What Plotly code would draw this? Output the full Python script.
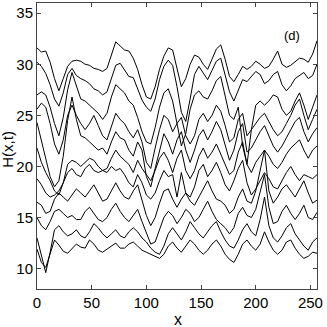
import plotly.graph_objects as go

# interface heights H(x,t) at successive times, sampled every 4 sites
x = list(range(0, 257, 4))

h1 = [31.6, 31.2, 31.3, 30.2, 28.6, 27.4, 28.6, 29.8, 30.3, 30.4, 30.3, 30.0, 29.9, 29.6, 29.5, 29.3,
      29.6, 30.8, 32.2, 31.8, 31.4, 31.3, 30.6, 29.5, 28.0, 26.8, 26.6, 27.8, 29.5, 30.8, 31.6, 31.4,
      29.5, 27.8, 28.6, 30.0, 30.9, 30.7, 30.0, 29.5, 30.5, 31.5, 31.9, 30.5, 28.8, 28.3, 29.0, 29.8,
      29.5, 29.8, 30.3, 30.0, 29.6, 29.8, 30.5, 31.3, 30.0, 29.7, 29.9, 30.3, 30.6, 30.5, 30.2, 31.0, 32.3]
h2 = [30.2, 29.8, 29.1, 28.0, 26.6, 25.9, 27.2, 29.0, 29.6, 28.9, 28.6, 28.4, 28.1, 27.6, 27.4, 27.0,
      27.3, 28.6, 29.9, 30.1, 29.4, 28.8, 28.7, 27.6, 26.5, 25.8, 25.4, 26.6, 28.5, 29.8, 30.4, 29.9,
      27.8, 25.3, 24.4, 26.6, 29.0, 29.8, 29.2, 28.5, 29.4, 30.3, 30.6, 29.0, 27.3, 26.4, 27.4, 28.5,
      28.3, 28.8, 29.3, 29.0, 28.1, 28.4, 29.0, 29.3, 28.0, 27.4, 27.9, 28.6, 28.9, 29.2, 28.6, 28.9, 30.0]
h3 = [27.0, 27.3, 27.0, 25.8, 24.2, 23.0, 24.8, 27.5, 29.2, 27.8, 26.6, 26.4, 26.0, 25.6, 25.2, 24.6,
      25.2, 26.8, 28.0, 27.6, 27.2, 26.4, 26.0, 24.8, 23.4, 22.4, 22.2, 23.8, 25.8, 27.2, 27.6, 26.4,
      24.0, 22.0, 23.2, 25.6, 27.0, 27.4, 26.8, 26.6, 27.4, 28.4, 28.8, 27.0, 25.0, 24.6, 25.8, 22.0,
      20.2, 23.6, 26.0, 26.4, 26.0, 26.4, 27.0, 26.8, 25.6, 25.0, 25.4, 26.4, 27.2, 26.0, 24.6, 25.8, 27.0]
h4 = [25.6, 26.2, 25.8, 24.2, 22.2, 21.2, 22.6, 25.0, 26.0, 25.0, 24.2, 23.6, 24.2, 25.0, 24.0, 23.0,
      22.6, 23.8, 25.2, 24.6, 24.2, 23.4, 22.8, 23.6, 22.4, 20.4, 19.8, 21.8, 23.6, 25.0, 24.6, 23.4,
      24.2, 24.8, 23.0, 22.2, 23.0, 24.6, 25.2, 24.4, 25.0, 26.0, 25.4, 24.0, 22.4, 22.8, 24.6, 25.2,
      23.0, 23.6, 24.2, 24.8, 25.2, 24.4, 23.6, 23.0, 23.4, 24.2, 25.0, 26.0, 26.6, 25.0, 23.6, 24.6, 25.6]
h5 = [24.3, 22.5, 20.5, 19.0, 18.0, 18.6, 21.0, 24.5, 26.8, 24.6, 23.0, 22.8, 22.4, 22.0, 21.6, 21.8,
      21.2, 22.4, 23.4, 22.8, 22.6, 21.6, 21.0, 22.4, 21.6, 19.0, 18.0, 19.8, 21.6, 23.2, 22.4, 21.2,
      22.6, 23.4, 21.6, 20.4, 21.6, 23.0, 23.6, 22.6, 23.4, 24.4, 23.6, 22.0, 20.6, 21.6, 23.4, 24.2,
      21.4, 21.8, 22.6, 23.4, 24.0, 23.0, 22.0, 21.4, 22.0, 22.8, 23.6, 24.4, 24.8, 23.4, 22.4, 23.2, 23.8]
h6 = [21.8, 20.4, 19.4, 18.6, 17.6, 17.2, 18.4, 20.2, 20.6, 20.4, 20.0, 20.4, 20.8, 20.6, 20.0, 19.6,
      19.8, 20.8, 21.6, 21.0, 20.6, 20.2, 19.4, 20.6, 19.8, 19.2, 18.6, 19.6, 20.8, 21.4, 20.6, 19.4,
      20.8, 21.6, 19.6, 18.8, 19.6, 21.0, 21.8, 20.8, 21.4, 22.2, 21.2, 20.2, 19.2, 19.6, 21.4, 22.4,
      20.2, 19.4, 20.4, 21.0, 21.6, 21.0, 20.2, 19.8, 20.4, 21.2, 21.8, 22.2, 22.6, 21.6, 20.8, 21.6, 22.0]
h7 = [18.8, 18.2, 17.4, 17.0, 17.2, 17.6, 18.4, 19.4, 19.8, 19.2, 19.0, 19.8, 20.2, 19.6, 19.4, 19.6,
      19.4, 20.0, 19.6, 19.8, 19.2, 18.4, 18.0, 19.2, 18.4, 17.2, 16.8, 17.4, 18.6, 19.6, 19.0, 19.2,
      17.0, 19.4, 17.4, 17.0, 18.0, 19.6, 20.2, 19.0, 19.6, 20.4, 19.4, 18.2, 17.6, 18.6, 19.8, 20.6,
      18.4, 17.2, 17.8, 18.6, 19.4, 18.8, 18.0, 17.8, 18.6, 19.4, 20.0, 19.2, 18.6, 19.2, 19.0, 18.8, 19.2]
h8 = [16.5, 16.2, 15.4, 15.6, 16.8, 17.4, 17.0, 16.6, 17.2, 17.8, 17.4, 17.0, 17.6, 18.2, 17.4, 16.6,
      16.8, 17.6, 18.4, 17.6, 17.0, 16.8, 17.6, 18.2, 16.8, 15.2, 14.2, 15.0, 16.4, 17.6, 17.8, 16.8,
      16.0, 16.8, 17.4, 16.6, 16.2, 17.0, 17.8, 18.6, 17.6, 16.8, 16.6, 16.2, 15.4, 15.8, 17.0, 17.8,
      16.6, 16.4, 17.6, 19.6, 21.6, 17.6, 16.4, 17.0, 17.8, 18.2, 17.6, 17.0, 17.8, 18.6, 17.4, 16.4, 16.7]
h9 = [15.0, 14.2, 13.8, 14.6, 15.6, 15.8, 15.4, 15.0, 15.2, 14.8, 14.8, 15.6, 16.0, 15.4, 14.8, 14.6,
      15.0, 15.8, 16.4, 15.6, 15.0, 14.6, 15.2, 15.8, 14.6, 13.4, 12.4, 12.6, 13.8, 15.0, 15.6, 15.2,
      14.4, 15.0, 15.8, 15.4, 14.6, 15.0, 15.8, 16.6, 15.6, 14.8, 14.4, 14.0, 13.4, 14.0, 15.4, 16.0,
      15.2, 15.0, 15.8, 17.4, 19.2, 16.0, 14.4, 14.6, 15.6, 16.2, 15.4, 14.8, 15.4, 16.2, 15.0, 14.8, 15.5]
h10 = [13.0, 11.2, 9.6, 11.6, 13.8, 14.2, 13.6, 13.2, 13.4, 13.8, 13.2, 13.0, 13.6, 14.4, 14.0, 13.4,
       13.0, 13.4, 13.8, 13.2, 13.0, 13.6, 14.0, 13.6, 13.0, 12.6, 12.0, 11.6, 11.4, 12.2, 13.4, 14.0,
       13.4, 12.8, 13.6, 14.6, 14.0, 13.4, 13.0, 13.6, 14.2, 14.6, 13.6, 12.8, 12.2, 12.0, 12.8, 13.8,
       14.4, 13.6, 13.2, 14.8, 17.0, 14.2, 13.0, 12.6, 13.2, 14.0, 14.4, 13.4, 12.8, 12.2, 11.8, 12.6, 13.0]
h11 = [11.9, 10.6, 10.1, 11.4, 12.8, 12.3, 11.7, 11.5, 11.9, 12.4, 12.1, 12.0, 12.8, 12.4, 11.8, 11.6,
       11.9, 12.2, 12.5, 12.0, 12.0, 12.4, 12.6, 12.2, 11.8, 11.6, 11.4, 11.2, 11.0, 11.4, 12.2, 12.6,
       12.0, 11.6, 12.2, 12.8, 12.4, 11.8, 11.4, 11.8, 12.4, 12.8, 12.2, 11.4, 10.9, 10.6, 11.4, 12.4,
       12.8, 12.2, 11.8, 12.4, 13.6, 12.6, 11.8, 11.4, 11.8, 12.6, 12.8, 12.0, 11.4, 11.0, 11.2, 11.6, 11.5]

heights = [h1, h2, h3, h4, h5, h6, h7, h8, h9, h10, h11]

fig = go.Figure()
for h in heights:
    fig.add_trace(go.Scatter(x=x, y=h, mode="lines",
                             line=dict(color="black", width=1), showlegend=False))

axis_style = dict(showline=True, linecolor="#444444", linewidth=1, mirror="ticks",
                  ticks="inside", ticklen=4, tickcolor="#444444", showgrid=False,
                  zeroline=False, automargin=False, tickfont=dict(size=15, color="black"))

fig.update_xaxes(range=[0, 256], tickvals=[0, 50, 100, 150, 200, 250], **axis_style)
fig.update_yaxes(range=[8, 36], tickvals=[10, 15, 20, 25, 30, 35], **axis_style)

# axis titles and panel tag placed as text
fig.add_annotation(x=0.505, y=-0.105, xref="paper", yref="paper", text="x",
                   xanchor="center", yanchor="middle",
                   showarrow=False, font=dict(size=16, color="black"))
fig.add_annotation(x=-0.104, y=0.49, xref="paper", yref="paper", text="H(x,t)",
                   xanchor="center", yanchor="middle",
                   textangle=-90, showarrow=False, font=dict(size=15, color="black"))
fig.add_annotation(x=233, y=32.8, text="(d)", showarrow=False,
                   xanchor="center", yanchor="middle",
                   font=dict(size=13, color="black"))

fig.update_layout(width=327, height=327, margin=dict(l=37, r=10, t=3, b=38),
                  plot_bgcolor="white", paper_bgcolor="white",
                  font=dict(family="Liberation Sans, Arial, sans-serif", color="black"))

# drop the page's default body margin so the figure sits at the window corner
fig.write_html("out.html", config={"displayModeBar": False},
               post_script="document.body.style.margin='0';")
